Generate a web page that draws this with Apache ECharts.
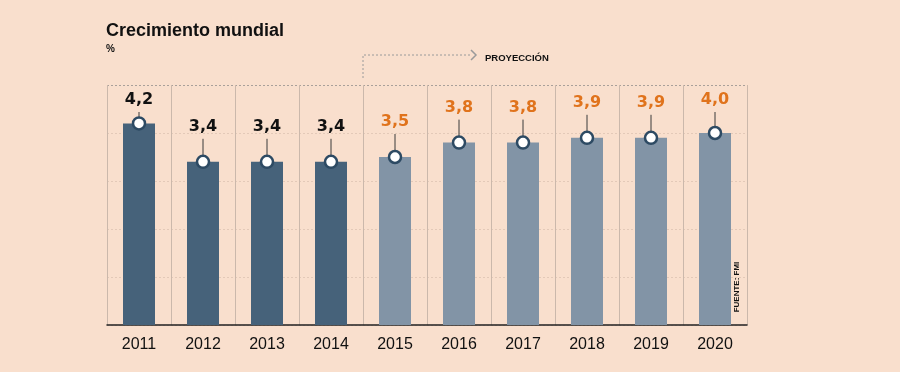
<!DOCTYPE html>
<html>
<head>
<meta charset="utf-8">
<script src="https://cdn.jsdelivr.net/npm/echarts@6/dist/echarts.min.js"></script>
<style>
html,body{margin:0;padding:0;background:#f9dfcd;}
#c{width:900px;height:372px;}
</style>
</head>
<body>
<div id="c"></div>
<script>
const years = ['2011','2012','2013','2014','2015','2016','2017','2018','2019','2020'];
const growth = [4.2, 3.4, 3.4, 3.4, 3.5, 3.8, 3.8, 3.9, 3.9, 4.0];
const projected = [false, false, false, false, true, true, true, true, true, true];
const labels = ['4,2','3,4','3,4','3,4','3,5','3,8','3,8','3,9','3,9','4,0'];

const BG = '#f9dfcd';
const DARK = '#46627a';
const LIGHT = '#8294a6';
const ORANGE = '#e0731c';

const chart = echarts.init(document.getElementById('c'), null, {renderer:'canvas'});

const pointData = growth.map((v,i)=>[i, v]);

chart.setOption({
  backgroundColor: BG,
  animation: false,
  grid: {left:107, right:153, top:85, bottom:47},
  xAxis: {
    type:'category', data: years, boundaryGap:true,
    axisLine:{show:true, lineStyle:{color:'#222', width:1.5}},
    axisTick:{show:false},
    axisLabel:{color:'#111', fontSize:16, fontFamily:'Liberation Sans', margin:12},
    splitLine:{show:true, interval:0, lineStyle:{color:'#cbb8ab', width:1}}
  },
  yAxis: {
    type:'value', min:0, max:5, interval:1,
    axisLine:{show:false}, axisTick:{show:false}, axisLabel:{show:false},
    splitLine:{show:true, lineStyle:{color:['#e3c9b8','#e3c9b8','#e3c9b8','#e3c9b8','#e3c9b8','#a9a09a'], type:[2,2], width:1}}
  },
  series: [
    {
      type:'bar', data: growth, barWidth:32,
      itemStyle:{color: p => projected[p.dataIndex] ? LIGHT : DARK},
      z:2
    },
    {
      type:'custom', data: pointData, z:4,
      renderItem: (params, api) => {
        const i = api.value(0), v = api.value(1);
        const pt = api.coord([i, v]);
        const ly = Math.max(pt[1]-35, 100);
        return {
          type:'group',
          children:[
            {type:'line', shape:{x1:pt[0], y1:ly+12, x2:pt[0], y2:pt[1]-5}, style:{stroke:'#3a3a3a', lineWidth:1}},
            {type:'text', x:pt[0], y:ly, style:{text:labels[params.dataIndex], fill: projected[params.dataIndex]?ORANGE:'#111', font:'bold 16px "DejaVu Sans"', textAlign:'center', textVerticalAlign:'middle'}}
          ]
        };
      }
    },
    {
      type:'scatter', data: pointData, symbol:'circle', symbolSize:12, z:5,
      itemStyle:{color:'#ffffff', borderColor:'#2d4a63', borderWidth:2.5, opacity:1}
    }
  ],
  graphic: [
    {type:'text', left:106, top:22, style:{text:'Crecimiento mundial', fill:'#111', font:'bold 18px "Liberation Sans"'}},
    {type:'text', left:106, top:44, style:{text:'%', fill:'#111', font:'bold 10px "Liberation Sans"'}},
    {type:'polyline', shape:{points:[[363,78],[363,55],[470,55]]}, style:{stroke:'#9a9a9a', lineWidth:1, lineDash:[2,2], fill:null}},
    {type:'polyline', shape:{points:[[471,50],[476,55],[471,60]]}, style:{stroke:'#9a9a9a', lineWidth:1.5, fill:null}},
    {type:'text', x:485, y:58, style:{text:'PROYECCIÓN', fill:'#111', font:'bold 9.5px "Liberation Sans"', textVerticalAlign:'middle'}},
    {type:'text', x:737, y:287, rotation:Math.PI/2, style:{text:'FUENTE: FMI', fill:'#111', font:'bold 8px "Liberation Sans"', textAlign:'center', textVerticalAlign:'middle'}}
  ]
});
</script>
</body>
</html>
